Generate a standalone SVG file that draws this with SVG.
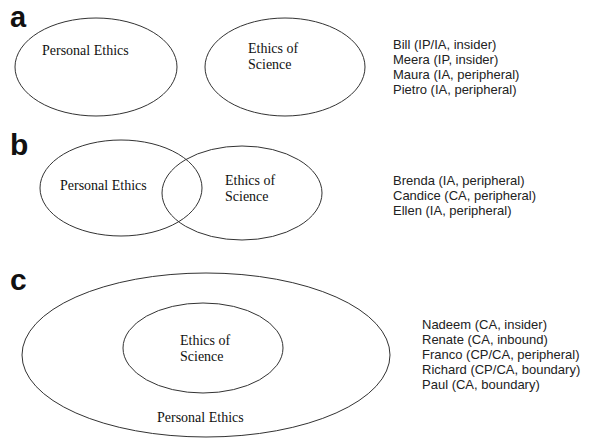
<svg xmlns="http://www.w3.org/2000/svg" width="589" height="439" viewBox="0 0 589 439">
<style>
.bg{fill:#ffffff}
.ell{fill:none;stroke:#333333;stroke-width:1}
.lab{font-family:"Liberation Sans",Arial,sans-serif;font-weight:bold;font-size:30px;fill:#111111}
.in{font-family:"Liberation Serif","Times New Roman",serif;font-size:14px;fill:#111111}
.lst{font-family:"Liberation Sans",Arial,sans-serif;font-size:13px;fill:#222222}
</style>
<rect class="bg" x="0" y="0" width="589" height="439"/>
<g id="panel-a">
  <text class="lab" x="10" y="27" style="font-size:29px">a</text>
  <g id="a-personal-ethics">
    <ellipse class="ell" cx="96" cy="67" rx="81" ry="49"/>
    <text class="in" x="42" y="55">Personal Ethics</text>
  </g>
  <g id="a-ethics-of-science">
    <ellipse class="ell" cx="285" cy="67" rx="80" ry="49"/>
    <text class="in" x="248" y="53">Ethics of</text>
    <text class="in" x="248" y="69">Science</text>
  </g>
  <g id="a-list">
    <text class="lst" x="393" y="49">Bill (IP/IA, insider)</text>
    <text class="lst" x="393" y="64">Meera (IP, insider)</text>
    <text class="lst" x="393" y="79">Maura (IA, peripheral)</text>
    <text class="lst" x="393" y="94">Pietro (IA, peripheral)</text>
  </g>
</g>
<g id="panel-b">
  <text class="lab" x="10" y="155">b</text>
  <g id="b-personal-ethics">
    <ellipse class="ell" cx="121" cy="188" rx="81" ry="48"/>
    <text class="in" x="60" y="190">Personal Ethics</text>
  </g>
  <g id="b-ethics-of-science">
    <ellipse class="ell" cx="242" cy="193" rx="80" ry="47"/>
    <text class="in" x="225" y="185">Ethics of</text>
    <text class="in" x="225" y="201">Science</text>
  </g>
  <g id="b-list">
    <text class="lst" x="393" y="185">Brenda (IA, peripheral)</text>
    <text class="lst" x="393" y="200">Candice (CA, peripheral)</text>
    <text class="lst" x="393" y="215">Ellen (IA, peripheral)</text>
  </g>
</g>
<g id="panel-c">
  <text class="lab" x="10" y="290">c</text>
  <g id="c-personal-ethics">
    <ellipse class="ell" cx="206" cy="355" rx="184" ry="82"/>
    <text class="in" x="157" y="422">Personal Ethics</text>
  </g>
  <g id="c-ethics-of-science">
    <ellipse class="ell" cx="203" cy="348" rx="80" ry="45"/>
    <text class="in" x="180" y="345">Ethics of</text>
    <text class="in" x="180" y="361">Science</text>
  </g>
  <g id="c-list">
    <text class="lst" x="422" y="329">Nadeem (CA, insider)</text>
    <text class="lst" x="422" y="344">Renate (CA, inbound)</text>
    <text class="lst" x="422" y="359">Franco (CP/CA, peripheral)</text>
    <text class="lst" x="422" y="374">Richard (CP/CA, boundary)</text>
    <text class="lst" x="422" y="389">Paul (CA, boundary)</text>
  </g>
</g>
<g id="connectors"/>
</svg>
